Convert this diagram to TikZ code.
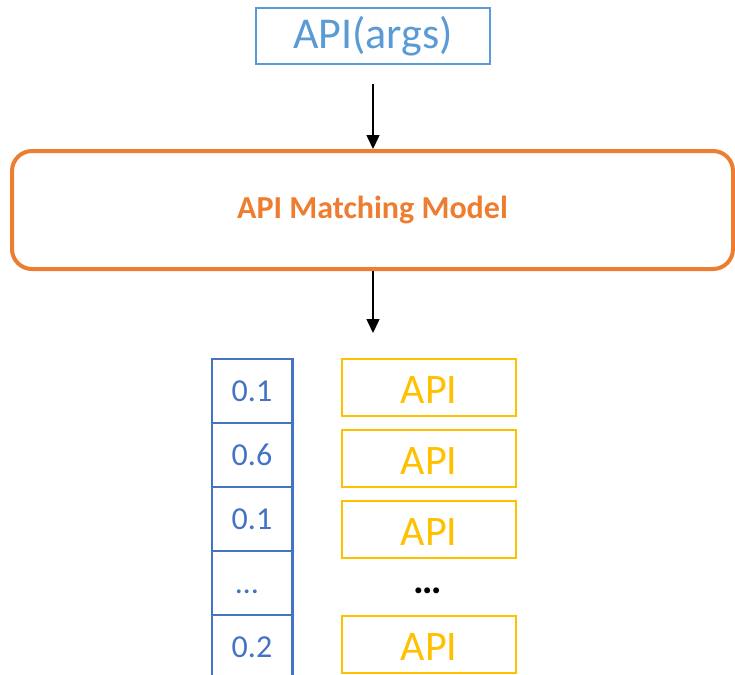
\documentclass[tikz,border=0pt]{standalone}
\usepackage{fontspec}
\setmainfont{Carlito}
\usetikzlibrary{arrows.meta}
\definecolor{lblue}{HTML}{5B9BD5}
\definecolor{dblue}{HTML}{4472C4}
\definecolor{orng}{HTML}{ED7D31}
\definecolor{gold}{HTML}{FFC000}
\tikzset{
  inbox/.style={draw=lblue, line width=1.5pt, minimum width=234pt, minimum height=56pt, inner sep=0pt, text=lblue, font=\fontsize{44}{46}\selectfont},
  modelbox/.style={draw=orng, line width=4pt, rounded corners=20pt, minimum width=721pt, minimum height=118pt, inner sep=0pt, text=orng, font=\bfseries\fontsize{32}{34}\selectfont},
  cell/.style={draw=dblue, line width=2.5pt, minimum width=80.5pt, minimum height=64pt, inner sep=0pt, text=dblue, font=\fontsize{32}{34}\selectfont},
  apibox/.style={draw=gold, line width=2pt, minimum width=174pt, minimum height=57pt, inner sep=0pt, text=gold, text height=32pt, text depth=0pt, font=\fontsize{42}{44}\selectfont},
  flow/.style={-{Triangle[width=13pt,length=14pt]}, line width=1.5pt, black}
}
\begin{document}
\begin{tikzpicture}[x=1pt,y=-1pt]
\useasboundingbox (0,0) rectangle (735,674);
\clip (0,0) rectangle (735,674);
\node[inbox] (top) at (373,36) {API(args)};
\node[modelbox] (model) at (372.5,210) {API Matching Model};
\coordinate (arrowend) at (373,333);
\draw[flow, shorten <=19pt] (top.south -| 373,0) -- (model.north -| 373,0);
\draw[flow] (model.south -| 373,0) -- (arrowend);
\node[cell] (c1) at (252,391) {0.1};
\node[cell] (c2) at (252,455) {0.6};
\node[cell] (c3) at (252,519) {0.1};
\node[cell] (c4) at (252,583) {\smash{\raisebox{-10pt}{…}}\hspace*{10pt}};
\node[cell] (c5) at (252,647) {0.2};
\node[apibox] (a1) at (429,387.5) {API};
\node[apibox] (a2) at (429,458.5) {API};
\node[apibox] (a3) at (429,529.5) {API};
\node[font=\bfseries\fontsize{40}{42}\selectfont, inner sep=0pt] (dots) at (428,591) {…};
\node[apibox] (a4) at (429,644) {API};
\end{tikzpicture}
\end{document}
